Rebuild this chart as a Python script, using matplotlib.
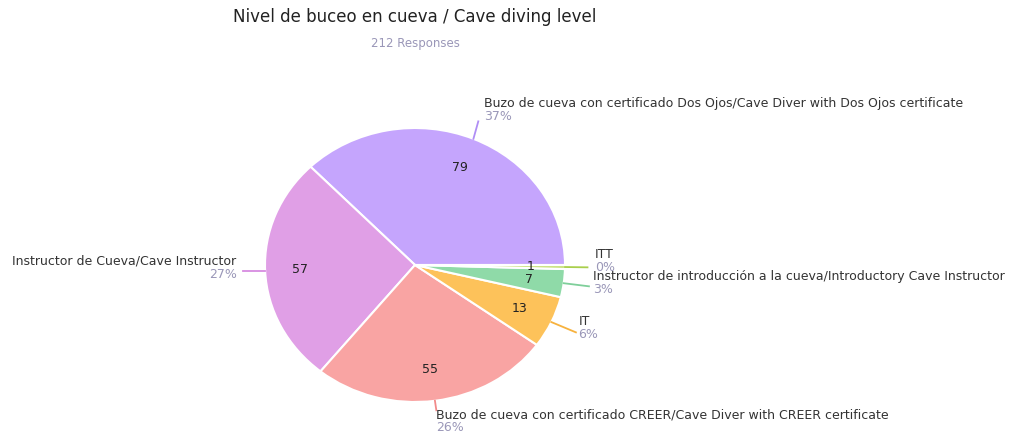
import numpy as np
import matplotlib
matplotlib.use("Agg")
import matplotlib.pyplot as plt

title = "Nivel de buceo en cueva / Cave diving level"
subtitle = "212 Responses"
categories = [
    "Buzo de cueva con certificado Dos Ojos/Cave Diver with Dos Ojos certificate",
    "Instructor de Cueva/Cave Instructor",
    "Buzo de cueva con certificado CREER/Cave Diver with CREER certificate",
    "IT",
    "Instructor de introducción a la cueva/Introductory Cave Instructor",
    "ITT",
]
values = [79, 57, 55, 13, 7, 1]
colors = ["#c5a5fd", "#e09fe6", "#f9a4a3", "#fdc25a", "#8fdaa8", "#cbe283"]
line_colors = ["#b08ef5", "#d78be0", "#f28a8a", "#f7b23e", "#7fcf9a", "#a9cf4c"]

W, H = 1011, 437
fig = plt.figure(figsize=(W / 100, H / 100), dpi=100)
fig.patch.set_facecolor("white")

# pie axes in pixel layout
cx, cy, rx, ry = 415, 265, 150, 137
ax = fig.add_axes([(cx - rx) / W, (H - cy - ry) / H, 2 * rx / W, 2 * ry / H])
wedges, texts = ax.pie(values, colors=colors, startangle=0, counterclock=True,
                       labels=[str(v) for v in values], labeldistance=0.77,
                       wedgeprops=dict(edgecolor="white", linewidth=1.5),
                       textprops=dict(fontsize=9, color="#222222", ha="center", va="center"))
ax.set_aspect("auto")
ax.set_xlim(-1, 1)
ax.set_ylim(-1, 1)

total = sum(values)
layout = [
    dict(r_end=1.13, ang_off=1, tx=0.46, ty=1.13, ha="left"),
    dict(r_end=1.15, ang_off=0, tx=-1.19, ty=-0.02, ha="right"),
    dict(r_end=1.07, ang_off=0, tx=0.14, ty=-1.14, ha="left"),
    dict(r_end=1.18, ang_off=0, tx=1.09, ty=-0.46, ha="left"),
    dict(r_end=1.17, ang_off=0, tx=1.19, ty=-0.13, ha="left"),
    dict(r_end=1.15, ang_off=0, tx=1.20, ty=0.03, ha="left"),
]
for w, cat, v, lay, lc in zip(wedges, categories, values, layout, line_colors):
    mid = np.deg2rad((w.theta1 + w.theta2) / 2)
    x0, y0 = np.cos(mid) * 1.0, np.sin(mid) * 1.0
    a2 = mid + np.deg2rad(lay["ang_off"])
    x1, y1 = np.cos(a2) * lay["r_end"], np.sin(a2) * lay["r_end"]
    if cat.startswith("Instructor de Cueva"):
        y1 = y0
    ax.plot([x0, x1], [y0, y1], color=lc, lw=1.3, clip_on=False)
    pct = f"{round(v / total * 100)}%"
    ax.text(lay["tx"], lay["ty"], cat, ha=lay["ha"], va="bottom", fontsize=9,
            color="#333333", clip_on=False)
    ax.text(lay["tx"], lay["ty"], pct, ha=lay["ha"], va="top", fontsize=9,
            color="#9a97b8", clip_on=False)

fig.text(233 / W, 1 - 17 / H, title, fontsize=12, color="#222222", ha="left", va="center")
fig.text(415 / W, 1 - 43 / H, subtitle, fontsize=8.5, color="#9a97b8", ha="center", va="center")

fig.savefig("out.png", dpi=100)
